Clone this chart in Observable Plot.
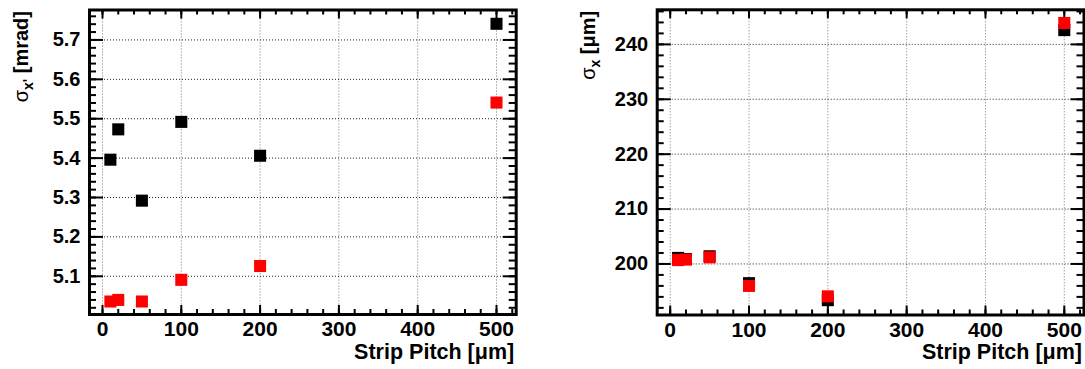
<!DOCTYPE html>
<html>
<head>
<meta charset="utf-8">
<script src="https://cdn.jsdelivr.net/npm/d3@7"></script>
<script src="https://cdn.jsdelivr.net/npm/@observablehq/plot@0.6"></script>
<style>
  html, body { margin: 0; padding: 0; background: #fff; }
  #wrap { position: relative; width: 1085px; height: 369px; overflow: hidden; background: #fff; }
  #wrap svg { position: absolute; top: 0; }
</style>
</head>
<body>
<div id="wrap"></div>
<script>
// Strip pitch values [µm]
const pitch = [10, 20, 50, 100, 200, 500];

// Angular resolution sigma_x' [mrad]
const angleBlack = [5.396, 5.473, 5.292, 5.492, 5.406, 5.741];
const angleRed   = [5.036, 5.040, 5.036, 5.091, 5.126, 5.541];

// Position resolution sigma_x [µm]
const posBlack = [201.1, 200.9, 201.4, 196.5, 193.4, 242.6];
const posRed   = [200.7, 200.8, 201.2, 196.0, 194.1, 243.9];

// Axis ticks
const xTicks = [0, 100, 200, 300, 400, 500];
const angleTicks = [5.1, 5.2, 5.3, 5.4, 5.5, 5.6, 5.7];
const posTicks = [200, 210, 220, 230, 240];

const xDomain = [-16.5, 525];
const HEIGHT = 369;
const FONT = "'Liberation Sans', Arial, Helvetica, sans-serif";

// inward tick marks on all four sides of the frame, as short rules
function frameTicks(values, axis, side, length, fw, fh) {
  const o = { stroke: "black", strokeWidth: 2 };
  if (axis === "x") {
    return Plot.ruleX(values, { x: d => d, ...o, ...(side === "bottom" ? { insetTop: fh - length } : { insetBottom: fh - length }) });
  }
  return Plot.ruleY(values, { y: d => d, ...o, ...(side === "left" ? { insetRight: fw - length } : { insetLeft: fw - length }) });
}

function panel({ left, width, margins, yDomain, yMajor, yMinor, yFormat, black, red, yKey, yParts }) {
  const [ml, mr, mt, mb] = margins;
  const fw = width - ml - mr, fh = HEIGHT - mt - mb;
  const xMinor = d3.range(0, 521, 20);
  const toPts = vals => pitch.map((x, i) => ({ x, y: vals[i] }));
  const svg = Plot.plot({
    width, height: HEIGHT,
    marginLeft: ml, marginRight: mr, marginTop: mt, marginBottom: mb,
    x: { domain: xDomain, axis: null },
    y: { domain: yDomain, axis: null },
    style: { fontFamily: FONT, background: "white", overflow: "visible", color: "black" },
    marks: [
      Plot.gridX(xTicks, { stroke: "#777", strokeOpacity: 1, strokeWidth: 1, strokeDasharray: "1,2" }),
      Plot.gridY(yMajor, { stroke: "#222", strokeOpacity: 1, strokeWidth: 1, strokeDasharray: "1,2" }),
      frameTicks(xMinor, "x", "bottom", 5, fw, fh), frameTicks(xTicks, "x", "bottom", 9, fw, fh),
      frameTicks(xMinor, "x", "top", 5, fw, fh), frameTicks(xTicks, "x", "top", 9, fw, fh),
      frameTicks(yMinor, "y", "left", 7, fw, fh), frameTicks(yMajor, "y", "left", 14, fw, fh),
      frameTicks(yMinor, "y", "right", 7, fw, fh), frameTicks(yMajor, "y", "right", 13, fw, fh),
      Plot.axisX(xTicks, { anchor: "bottom", label: null, tickSize: 0, tickPadding: 7, fontSize: 21, fontWeight: "bold", fontFamily: FONT }),
      Plot.axisY(yMajor, { anchor: "left", label: null, tickSize: 0, tickPadding: 9, tickFormat: yFormat, fontSize: 20, fontWeight: "bold", fontFamily: FONT }),
      Plot.dot(toPts(black), { x: "x", y: "y", symbol: "square", r: 6.8, fill: "black", stroke: "none" }),
      Plot.dot(toPts(red), { x: "x", y: "y", symbol: "square", r: 6.8, fill: "#ff0000", stroke: "none" }),
      Plot.frame({ stroke: "black", strokeWidth: 3 }),
      Plot.text(["Strip Pitch [μm]"], {
        text: d => d, frameAnchor: "bottom-right", textAnchor: "end", lineAnchor: "bottom",
        dx: -2, dy: 44, fontSize: 21.5, fontWeight: "bold", fontFamily: FONT
      }),
      Plot.text([yKey], {
        text: d => d, frameAnchor: "top-left", rotate: -90, textAnchor: "end", lineAnchor: "bottom",
        dx: -62, dy: 1, fontSize: 20, fontWeight: "bold", fontFamily: FONT
      })
    ]
  });
  svg.style.left = left + "px";
  // axis title with Greek letter and subscript
  d3.select(svg).selectAll("text")
    .filter(function () { return this.textContent === yKey; })
    .each(function () {
      const t = d3.select(this).text(null);
      for (const p of yParts) {
        const s = t.append("tspan").text(p.text);
        if (p.weight) s.attr("font-weight", p.weight);
        if (p.size) s.attr("font-size", p.size);
        if (p.dy) s.attr("dy", p.dy);
      }
    });
  document.getElementById("wrap").appendChild(svg);
}

panel({
  left: 0, width: 542, margins: [89, 26.3, 9.5, 55],
  yDomain: [5.003, 5.776], yMajor: angleTicks,
  yMinor: d3.range(5.02, 5.77, 0.02).map(v => +v.toFixed(2)),
  yFormat: d3.format(".1f"), black: angleBlack, red: angleRed,
  yKey: "σx' [mrad]",
  yParts: [{ text: "σ", weight: "normal" }, { text: "x'", size: 14, dy: 5 }, { text: " [mrad]", dy: -5 }]
});

panel({
  left: 543, width: 542, margins: [113.7, 1.5, 9.3, 54.5],
  yDomain: [190.7, 246.3], yMajor: posTicks,
  yMinor: d3.range(192, 247, 2),
  yFormat: d3.format("d"), black: posBlack, red: posRed,
  yKey: "σx [μm]",
  yParts: [{ text: "σ", weight: "normal" }, { text: "x", size: 14, dy: 5 }, { text: " [μm]", dy: -5 }]
});
</script>
</body>
</html>
